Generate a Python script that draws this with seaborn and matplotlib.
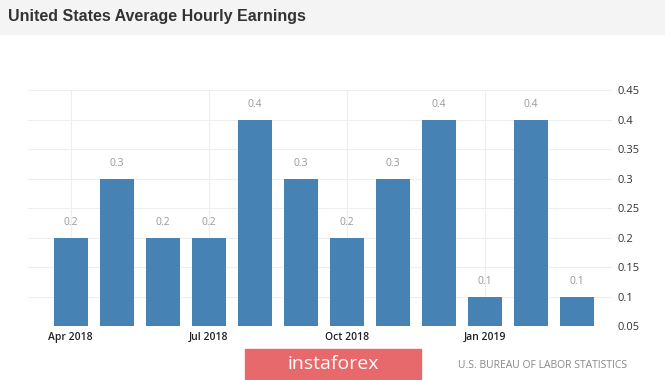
import matplotlib
matplotlib.use("Agg")
import matplotlib.pyplot as plt
from matplotlib.patches import Rectangle
import seaborn as sns
import pandas as pd

months = ["Apr 2018", "May 2018", "Jun 2018", "Jul 2018", "Aug 2018", "Sep 2018",
          "Oct 2018", "Nov 2018", "Dec 2018", "Jan 2019", "Feb 2019", "Mar 2019"]
values = [0.2, 0.3, 0.2, 0.2, 0.4, 0.3, 0.2, 0.3, 0.4, 0.1, 0.4, 0.1]
shown_months = ["Apr 2018", "Jul 2018", "Oct 2018", "Jan 2019"]
y_ticks = [0.05, 0.1, 0.15, 0.2, 0.25, 0.3, 0.35, 0.4, 0.45]

df = pd.DataFrame({"month": months, "value": values})

sns.set_style("white")
plt.rcParams['font.family'] = ['Open Sans', 'DejaVu Sans']

fig = plt.figure(figsize=(6.65, 3.8), dpi=100)
ax = fig.add_axes([0.042, 0.142, 0.878, 0.621])

# title band
fig.patches.append(Rectangle((0, 1 - 34 / 380), 1, 34 / 380, transform=fig.transFigure,
                             color='#f4f4f4', zorder=0))
fig.text(8 / 665, 1 - 17 / 380, "United States Average Hourly Earnings", fontsize=11.5,
         fontweight='bold', color='#333333', va='center', ha='left',
         family=['Liberation Sans', 'DejaVu Sans'])

sns.barplot(data=df, x="month", y="value", color='#4682b4', saturation=1,
            width=0.73, linewidth=0, ax=ax, zorder=3)

for i, v in enumerate(values):
    ax.text(i, v + 0.017, f"{v:g}", ha='center', va='bottom', fontsize=7.5, color='#999999')

ax.set_ylim(0.05, 0.45)
ax.set_xlim(-0.93, 11.76)
ax.yaxis.tick_right()
ax.set_yticks(y_ticks)
ax.set_yticklabels([f"{t:g}" for t in y_ticks], fontsize=8, color='#333333')
ax.set_xticks([months.index(m) for m in shown_months])
ax.set_xticklabels(shown_months, fontsize=7.5, color='#222222', fontweight='semibold')
ax.tick_params(length=0, pad=4)
ax.set_xlabel("")
ax.set_ylabel("")
ax.grid(True, color='#eeeeee', linewidth=0.8, zorder=0)
ax.set_axisbelow(True)
for s in ax.spines.values():
    s.set_visible(False)

# watermark / source
fig.patches.append(Rectangle((245 / 665, 1 - 379 / 380), 176 / 665, 30 / 380,
                             transform=fig.transFigure, color='#e8696b', zorder=1))
fig.text(333 / 665, 1 - 364 / 380, "instaforex", fontsize=14, color='white',
         ha='center', va='center')
fig.text(627 / 665, 1 - 366 / 380, "U.S. BUREAU OF LABOR STATISTICS", fontsize=7.5,
         color='#888888', ha='right', va='center')

fig.savefig("out.png", dpi=100)
